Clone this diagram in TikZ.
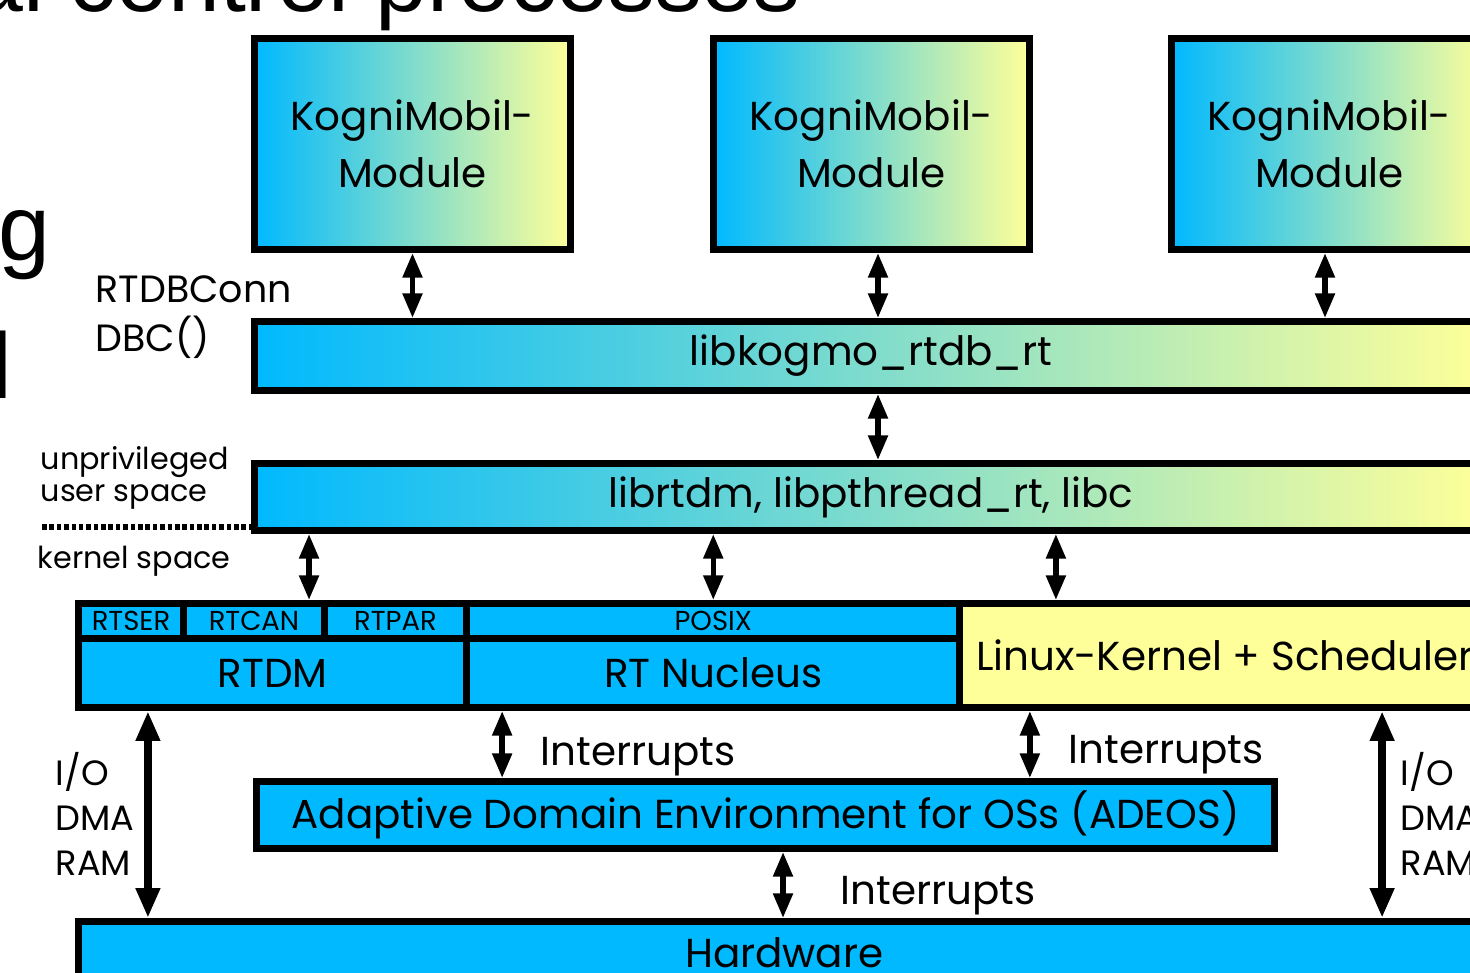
\documentclass[tikz,border=0pt]{standalone}
\usepackage{fontspec}
\setmainfont{Poppins}
\newfontfamily\slidefont{Liberation Sans}
\usetikzlibrary{arrows.meta, positioning, calc}
\definecolor{rtCyan}{HTML}{00B9FF}
\definecolor{rtYellow}{HTML}{FFFF99}
\newcommand{\mainsize}{\fontsize{11.5}{16.2}\selectfont}
\newcommand{\midsize}{\fontsize{10}{12.8}\selectfont}
\newcommand{\spacesize}{\fontsize{8.6}{9.1}\selectfont}
\newcommand{\smallsize}{\fontsize{7.8}{9}\selectfont}

\begin{document}
\begin{tikzpicture}[
    x=0.01cm, y=-0.01cm,
    % ── shared styles ───────────────────────────────────────────────
    module/.style={
        rectangle, draw, line width=2pt,
        left color=rtCyan, right color=rtYellow,
        font=\mainsize, align=center, inner sep=0pt,
        minimum width=3.16cm, minimum height=2.11cm,
    },
    libbar/.style={
        rectangle, draw, line width=2pt,
        left color=rtCyan, right color=rtYellow,
        font=\mainsize, inner sep=0pt,
        minimum width=12.33cm,
    },
    kcell/.style={
        rectangle, draw, line width=2pt, fill=rtCyan,
        font=\mainsize, inner sep=0pt,
    },
    subcell/.style={
        kcell, font=\smallsize, minimum height=0.35cm,
    },
    note/.style={font=\midsize, align=left, inner sep=0pt},
    irq/.style={font=\mainsize, inner sep=0pt, anchor=base west},
    slide/.style={font=\slidefont\fontsize{26.5}{30}\selectfont, inner sep=0pt},
    dbl/.style={
        {Triangle[length=7pt,width=5.4pt]}-{Triangle[length=7pt,width=5.4pt]},
        line width=1.5pt,
    },
    big dbl/.style={
        {Triangle[length=8.5pt,width=6.5pt]}-{Triangle[length=8.5pt,width=6.5pt]},
        line width=2.2pt,
    },
    sepline/.style={line width=1.6pt, dash pattern=on 1.3pt off 0.8pt},
]
\useasboundingbox (0,0) rectangle (1470,973);
\clip (0,0) rectangle (1470,973);

% =============================================================
%  slide fragments
% =============================================================
\node[slide, anchor=base east] (title) at (801,12) {al control processes};
\node[slide, anchor=base west] (fragg) at (-2,260) {g};
\node[slide, anchor=base west] (fragl) at (-9,398) {l};

% =============================================================
%  user space
% =============================================================
\node[module] (mod1) at (412.5,144) {KogniMobil-\\Module};
\node[module] (mod2) at (871.5,144) {KogniMobil-\\Module};
\node[module] (mod3) at (1329.5,144) {KogniMobil-\\Module};

\node[libbar, minimum height=0.69cm] (kogmo) at (871,356) {libkogmo\_rtdb\_rt};
\node[libbar, minimum height=0.67cm] (librtdm) at (871,497)
    {librtdm, libpthread\_rt, libc};

\node[note, font=\fontsize{10.8}{14}\selectfont, anchor=west] (dbconn) at (95,317)
    {RTDBConn\\DBC()};
\node[note, font=\spacesize, anchor=west] (user) at (40,478)
    {unprivileged\\user space};
\node[note, font=\spacesize, anchor=west] (kernel) at (37,561) {kernel space};

\coordinate (sepstart) at (42,527);
\draw[sepline] (sepstart) -- (sepstart -| librtdm.west);

\draw[dbl] (mod1.south) -- (mod1.south |- kogmo.north);
\draw[dbl] ([xshift=0.065cm]mod2.south) -- ([xshift=0.065cm]mod2.south |- kogmo.north);
\draw[dbl] ([xshift=-0.045cm]mod3.south) -- ([xshift=-0.045cm]mod3.south |- kogmo.north);
\draw[dbl] ([xshift=0.07cm]kogmo.south) -- ([xshift=0.07cm]kogmo.south |- librtdm.north);

% =============================================================
%  kernel space
% =============================================================
\node[subcell, minimum width=1.05cm] (rtser) at (131,621) {RTSER};
\node[subcell, minimum width=1.41cm] (rtcan) at (254,621) {RTCAN};
\node[subcell, minimum width=1.42cm] (rtpar) at (395.5,621) {RTPAR};
\node[subcell, minimum width=4.935cm] (posix) at (713.25,621) {POSIX};
\node[kcell, minimum width=3.88cm, minimum height=0.69cm] (rtdm) at (272.5,673) {RTDM};
\node[kcell, minimum width=4.935cm, minimum height=0.69cm] (nucleus) at (713.25,673) {RT Nucleus};
\node[kcell, fill=rtYellow, minimum width=5.30cm, minimum height=1.04cm] (linux)
    at (1225,655.5) {Linux-Kernel + Scheduler};

\draw[dbl] ([xshift=0.55cm]rtcan.north) -- ([xshift=0.55cm]rtcan.north |- librtdm.south);
\draw[dbl] (posix.north) -- (posix.north |- librtdm.south);
\draw[dbl] ([xshift=-1.69cm]linux.north) -- ([xshift=-1.69cm]linux.north |- librtdm.south);

% =============================================================
%  ADEOS + hardware
% =============================================================
\node[kcell, minimum width=10.18cm, minimum height=0.67cm] (adeos) at (765.5,815)
    {Adaptive Domain Environment for OSs (ADEOS)};
\node[kcell, minimum width=14.115cm, minimum height=0.62cm] (hw) at (784.25,952.5) {Hardware};

\draw[dbl] ([xshift=-2.11cm]nucleus.south) -- ([xshift=-2.11cm]nucleus.south |- adeos.north);
\draw[dbl] ([xshift=-1.95cm]linux.south) -- ([xshift=-1.95cm]linux.south |- adeos.north);
\draw[dbl] ([xshift=0.175cm]adeos.south) -- ([xshift=0.175cm]adeos.south |- hw.north);
\node[irq] (irq1) at (540,765) {Interrupts};
\node[irq] (irq2) at (1068,763) {Interrupts};
\node[irq] (irq3) at (840,904) {Interrupts};

\draw[big dbl] ([xshift=-1.245cm]rtdm.south) -- ([xshift=-1.245cm]rtdm.south |- hw.north);
\draw[big dbl] ([xshift=1.57cm]linux.south) -- ([xshift=1.57cm]linux.south |- hw.north);
\node[note, anchor=west] (ioleft) at (55,814) {I/O\\DMA\\RAM};
\node[note, anchor=west] (ioright) at (1400,814) {I/O\\DMA\\RAM};

\end{tikzpicture}
\end{document}
